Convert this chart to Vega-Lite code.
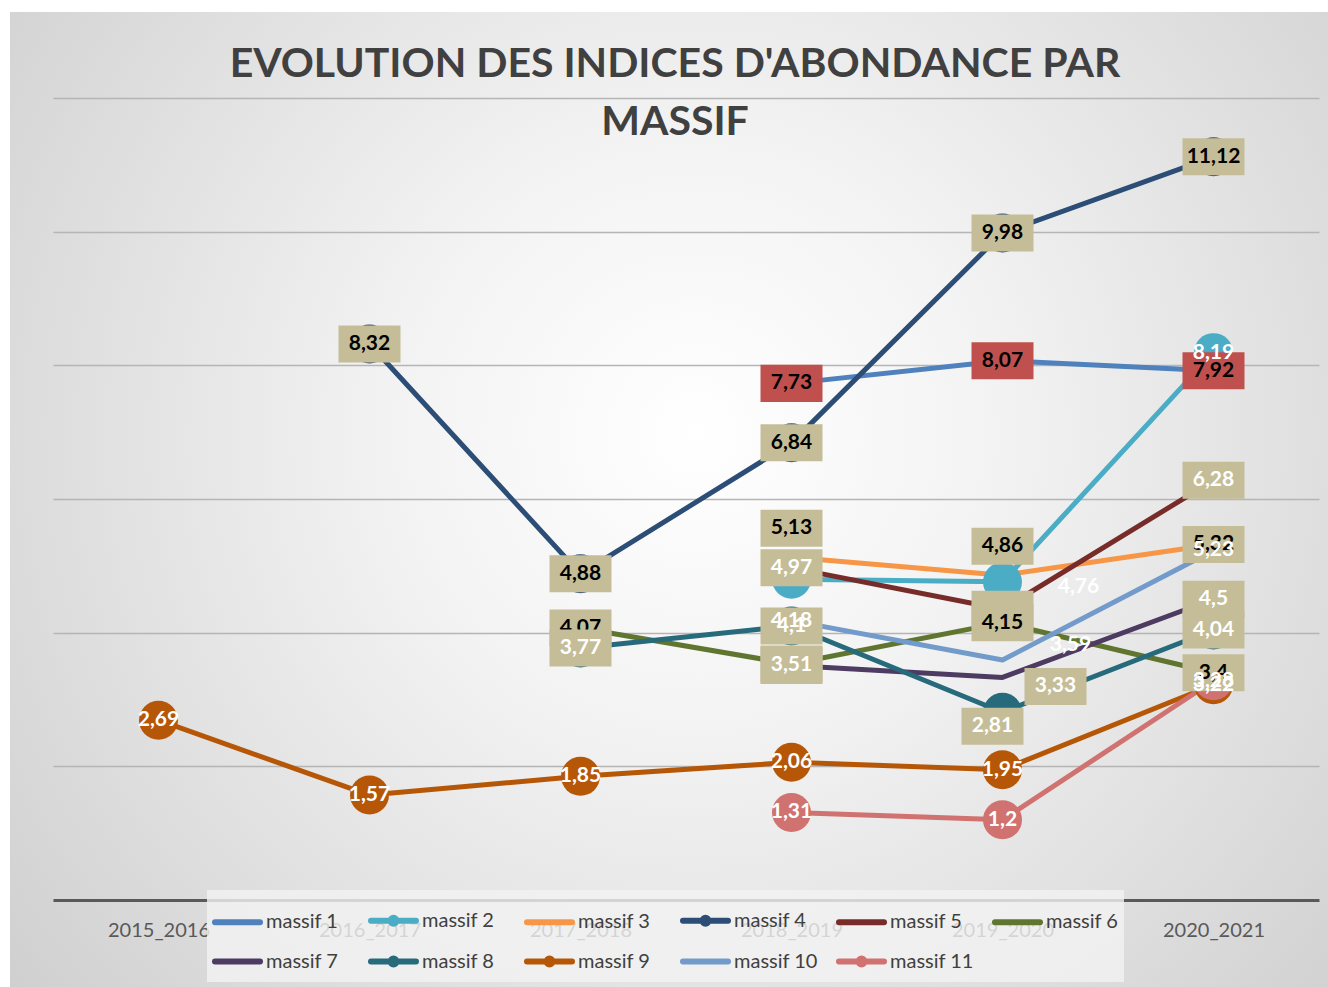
{
  "$schema": "https://vega.github.io/schema/vega-lite/v6.json",
  "width": 1318,
  "height": 975,
  "autosize": {"type": "none"},
  "padding": {"left": 10, "top": 12, "right": 0, "bottom": 0},
  "background": "white",
  "title": {
    "text": ["EVOLUTION DES INDICES D'ABONDANCE PAR", "MASSIF"],
    "font": "Lato",
    "fontSize": 41,
    "fontWeight": "bold",
    "color": "#404040",
    "lineHeight": 58,
    "anchor": "middle",
    "frame": "group",
    "offset": -132,
    "dx": 6
  },
  "config": {
    "locale": {"number": {"decimal": ",", "thousands": " ", "grouping": [3], "currency": ["", " €"]}},
    "view": {
      "stroke": null,
      "fill": {
        "gradient": "radial",
        "x1": 0.52, "y1": 0.45, "r1": 0,
        "x2": 0.52, "y2": 0.45, "r2": 0.75,
        "stops": [
          {"offset": 0, "color": "#ffffff"},
          {"offset": 0.3, "color": "#f3f3f3"},
          {"offset": 1, "color": "#c9c9c9"}
        ]
      }
    }
  },
  "data": {
    "values": [
      {"massif": "massif 1", "saison": "2018_2019", "indice": 7.73},
      {"massif": "massif 1", "saison": "2019_2020", "indice": 8.07},
      {"massif": "massif 1", "saison": "2020_2021", "indice": 7.92},
      {"massif": "massif 2", "saison": "2018_2019", "indice": 4.8},
      {"massif": "massif 2", "saison": "2019_2020", "indice": 4.76},
      {"massif": "massif 2", "saison": "2020_2021", "indice": 8.19},
      {"massif": "massif 3", "saison": "2018_2019", "indice": 5.13},
      {"massif": "massif 3", "saison": "2019_2020", "indice": 4.86},
      {"massif": "massif 3", "saison": "2020_2021", "indice": 5.32},
      {"massif": "massif 4", "saison": "2016_2017", "indice": 8.32},
      {"massif": "massif 4", "saison": "2017_2018", "indice": 4.88},
      {"massif": "massif 4", "saison": "2018_2019", "indice": 6.84},
      {"massif": "massif 4", "saison": "2019_2020", "indice": 9.98},
      {"massif": "massif 4", "saison": "2020_2021", "indice": 11.12},
      {"massif": "massif 5", "saison": "2018_2019", "indice": 4.97},
      {"massif": "massif 5", "saison": "2019_2020", "indice": 4.35},
      {"massif": "massif 5", "saison": "2020_2021", "indice": 6.28},
      {"massif": "massif 6", "saison": "2017_2018", "indice": 4.07},
      {"massif": "massif 6", "saison": "2018_2019", "indice": 3.53},
      {"massif": "massif 6", "saison": "2019_2020", "indice": 4.15},
      {"massif": "massif 6", "saison": "2020_2021", "indice": 3.4},
      {"massif": "massif 7", "saison": "2018_2019", "indice": 3.51},
      {"massif": "massif 7", "saison": "2019_2020", "indice": 3.33},
      {"massif": "massif 7", "saison": "2020_2021", "indice": 4.5},
      {"massif": "massif 8", "saison": "2017_2018", "indice": 3.77},
      {"massif": "massif 8", "saison": "2018_2019", "indice": 4.1},
      {"massif": "massif 8", "saison": "2019_2020", "indice": 2.81},
      {"massif": "massif 8", "saison": "2020_2021", "indice": 4.04},
      {"massif": "massif 9", "saison": "2015_2016", "indice": 2.69},
      {"massif": "massif 9", "saison": "2016_2017", "indice": 1.57},
      {"massif": "massif 9", "saison": "2017_2018", "indice": 1.85},
      {"massif": "massif 9", "saison": "2018_2019", "indice": 2.06},
      {"massif": "massif 9", "saison": "2019_2020", "indice": 1.95},
      {"massif": "massif 9", "saison": "2020_2021", "indice": 3.22},
      {"massif": "massif 10", "saison": "2018_2019", "indice": 4.18},
      {"massif": "massif 10", "saison": "2019_2020", "indice": 3.59},
      {"massif": "massif 10", "saison": "2020_2021", "indice": 5.23},
      {"massif": "massif 11", "saison": "2018_2019", "indice": 1.31},
      {"massif": "massif 11", "saison": "2019_2020", "indice": 1.2},
      {"massif": "massif 11", "saison": "2020_2021", "indice": 3.28}
    ]
  },
  "encoding": {
    "x": {
      "field": "saison",
      "type": "ordinal",
      "scale": {
        "domain": ["2015_2016", "2016_2017", "2017_2018", "2018_2019", "2019_2020", "2020_2021"],
        "range": [43, 1309],
        "paddingInner": 0,
        "paddingOuter": 0
      },
      "axis": {
        "title": null,
        "orient": "bottom",
        "offset": -87,
        "domainColor": "#595959",
        "domainWidth": 3,
        "ticks": false,
        "grid": false,
        "labelAngle": 0,
        "labelFont": "Lato",
        "labelFontSize": 20,
        "labelColor": "#595959",
        "labelPadding": 20
      }
    },
    "y": {
      "field": "indice",
      "type": "quantitative",
      "scale": {"domain": [0, 12], "range": [888, 86], "nice": false, "zero": false},
      "axis": {
        "title": null,
        "labels": false,
        "ticks": false,
        "domain": false,
        "grid": true,
        "gridColor": "#b5b5b5",
        "gridWidth": 1.5,
        "values": [2, 4, 6, 8, 10, 12]
      }
    }
  },
  "layer": [
    {
      "mark": {"type": "line", "strokeWidth": 5, "strokeJoin": "round", "strokeCap": "round"},
      "encoding": {
        "color": {
          "field": "massif",
          "type": "nominal",
          "scale": {
            "domain": ["massif 1", "massif 2", "massif 3", "massif 4", "massif 5", "massif 6", "massif 7", "massif 8", "massif 9", "massif 10", "massif 11"],
            "range": ["#4F81BD", "#4BACC6", "#F79646", "#2C4D75", "#772C2A", "#5F7530", "#4D3B62", "#276A7C", "#B65708", "#729ACA", "#D07270"]
          },
          "legend": {
            "title": null,
            "orient": "none",
            "legendX": 197,
            "legendY": 878,
            "direction": "horizontal",
            "columns": 6,
            "symbolType": "stroke",
            "symbolStrokeWidth": 6,
            "symbolSize": 2025,
            "labelFont": "Lato",
            "labelFontSize": 20,
            "labelColor": "#404040",
            "labelOffset": 3,
            "labelLimit": 200,
            "columnPadding": 9,
            "rowPadding": 0,
            "padding": 5,
            "gridAlign": "all",
            "fillColor": "rgba(243,243,243,0.8)",
            "encode": {
              "symbols": {
                "update": {
                  "shape": {"signal": "indexof(['massif 2','massif 4','massif 8','massif 9','massif 11'], datum.value) >= 0 ? 'M-1,0L1,0M-0.13,0A0.13,0.13,0,1,1,0.13,0A0.13,0.13,0,1,1,-0.13,0Z' : 'M-1,0L1,0'"},
                  "fill": {"scale": "color", "field": "value"},
                  "stroke": {"scale": "color", "field": "value"},
                  "strokeCap": {"value": "round"},
                  "strokeWidth": {"value": 6},
                  "opacity": {"value": 1}
                }
              }
            }
          }
        }
      }
    },
    {
      "transform": [{"filter": {"field": "massif", "oneOf": ["massif 2", "massif 4", "massif 8", "massif 9", "massif 11"]}}],
      "mark": {"type": "circle", "size": 1520, "opacity": 1},
      "encoding": {
        "color": {"field": "massif", "type": "nominal"}
      }
    },
    {
      "transform": [{"filter": "(indexof(['massif 1','massif 4','massif 5','massif 6','massif 7'], datum.massif) >= 0 && !(datum.massif === 'massif 7' && datum.saison === '2019_2020')) || (datum.massif === 'massif 3' && datum.saison === '2020_2021')"}],
      "mark": {"type": "point", "shape": "M-1,-0.597L1,-0.597L1,0.597L-1,0.597Z", "size": 3844, "filled": true, "opacity": 1, "strokeWidth": 0},
      "encoding": {
        "fill": {
          "condition": {"test": "datum.massif === 'massif 1'", "value": "#C0504D"},
          "value": "#C4BD97"
        }
      }
    },
    {
      "transform": [{"filter": "datum.massif === 'massif 3' && datum.saison !== '2020_2021'"}],
      "mark": {"type": "point", "shape": "M-1,-1.532L1,-1.532L1,-0.338L-1,-0.338Z", "size": 3844, "filled": true, "opacity": 1, "strokeWidth": 0, "fill": "#C4BD97"}
    },
    {
      "transform": [{"filter": "datum.massif === 'massif 7' && datum.saison === '2019_2020'"}],
      "mark": {"type": "point", "shape": "M0.71,-0.307L2.71,-0.307L2.71,0.887L0.71,0.887Z", "size": 3844, "filled": true, "opacity": 1, "strokeWidth": 0, "fill": "#C4BD97"}
    },
    {
      "transform": [{"filter": "indexof(['massif 1','massif 2','massif 3','massif 4','massif 5','massif 6','massif 7'], datum.massif) >= 0 && !(datum.massif === 'massif 2' && datum.saison !== '2020_2021') && !(datum.massif === 'massif 3' && datum.saison !== '2020_2021') && !(datum.massif === 'massif 5' && datum.saison === '2019_2020') && !(datum.massif === 'massif 6' && datum.saison === '2018_2019') && !(datum.massif === 'massif 7' && datum.saison === '2019_2020')"}],
      "mark": {"type": "text", "font": "Lato", "fontSize": 21, "fontWeight": "bold"},
      "encoding": {
        "text": {"field": "indice", "type": "quantitative", "format": "~g"},
        "color": {
          "condition": {"test": "indexof(['massif 1','massif 3','massif 4','massif 6'], datum.massif) >= 0", "value": "#000000"},
          "value": "#ffffff"
        }
      }
    },
    {
      "transform": [{"filter": "datum.massif === 'massif 3' && datum.saison !== '2020_2021'"}],
      "mark": {"type": "text", "font": "Lato", "fontSize": 21, "fontWeight": "bold", "dy": -29, "color": "#000000"},
      "encoding": {"text": {"field": "indice", "type": "quantitative", "format": "~g"}}
    },
    {
      "transform": [{"filter": "datum.massif === 'massif 7' && datum.saison === '2019_2020'"}],
      "mark": {"type": "text", "font": "Lato", "fontSize": 21, "fontWeight": "bold", "dx": 53, "dy": 9, "color": "#ffffff"},
      "encoding": {"text": {"field": "indice", "type": "quantitative", "format": "~g"}}
    },
    {
      "transform": [{"filter": "datum.massif === 'massif 2' && datum.saison === '2019_2020'"}],
      "mark": {"type": "text", "font": "Lato", "fontSize": 21, "fontWeight": "bold", "dx": 76, "dy": 5, "color": "#ffffff"},
      "encoding": {"text": {"field": "indice", "type": "quantitative", "format": "~g"}}
    },
    {
      "transform": [{"filter": "datum.massif === 'massif 8' && datum.saison !== '2019_2020'"}],
      "mark": {"type": "point", "shape": "M-1,-0.597L1,-0.597L1,0.597L-1,0.597Z", "size": 3844, "filled": true, "opacity": 1, "strokeWidth": 0, "fill": "#C4BD97"}
    },
    {
      "transform": [{"filter": "datum.massif === 'massif 8' && datum.saison === '2019_2020'"}],
      "mark": {"type": "point", "shape": "M-1.323,-0.145L0.677,-0.145L0.677,1.048L-1.323,1.048Z", "size": 3844, "filled": true, "opacity": 1, "strokeWidth": 0, "fill": "#C4BD97"}
    },
    {
      "transform": [{"filter": "indexof(['massif 8','massif 9','massif 10','massif 11'], datum.massif) >= 0 && !(datum.massif === 'massif 8' && datum.saison === '2019_2020') && !(datum.massif === 'massif 10' && datum.saison === '2019_2020')"}],
      "mark": {"type": "text", "font": "Lato", "fontSize": 21, "fontWeight": "bold", "color": "#ffffff"},
      "encoding": {"text": {"field": "indice", "type": "quantitative", "format": "~g"}}
    },
    {
      "transform": [{"filter": "datum.massif === 'massif 8' && datum.saison === '2019_2020'"}],
      "mark": {"type": "text", "font": "Lato", "fontSize": 21, "fontWeight": "bold", "dx": -10, "dy": 14, "color": "#ffffff"},
      "encoding": {"text": {"field": "indice", "type": "quantitative", "format": "~g"}}
    },
    {
      "transform": [{"filter": "datum.massif === 'massif 10' && datum.saison === '2019_2020'"}],
      "mark": {"type": "text", "font": "Lato", "fontSize": 21, "fontWeight": "bold", "dx": 68, "dy": -15, "color": "#ffffff"},
      "encoding": {"text": {"field": "indice", "type": "quantitative", "format": "~g"}}
    }
  ]
}
